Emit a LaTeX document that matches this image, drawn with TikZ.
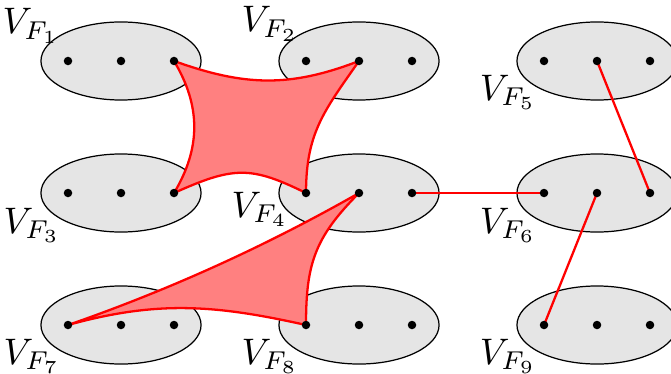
\documentclass[tikz,border=0pt]{standalone}
\usepackage{amsmath}
\usepackage{tikz}
\usetikzlibrary{shapes.geometric, calc}

\begin{document}
\begin{tikzpicture}[
    x=0.01cm, y=-0.01cm,
    part/.style={ellipse, draw=black, line width=0.35pt, fill=black!10, minimum width=1.6cm, minimum height=0.78cm, inner sep=0pt},
    vert/.style={circle, fill=black, inner sep=0pt, minimum size=0.085cm},
    hyper/.style={draw=red, line width=0.65pt, fill=red!50, line join=round},
    link/.style={draw=red, line width=0.65pt},
    lab/.style={inner sep=0pt, scale=1.05}
]
    \useasboundingbox (0,0) rectangle (671,373);

    % Parts of the partition, three vertices each
    \foreach \i/\x/\y in {1/121/61, 2/359/61, 5/597/61, 3/121/193, 4/359/193, 6/597/193, 7/121/325, 8/359/325, 9/597/325} {
        \node[part] (F\i) at (\x,\y) {};
        \foreach \j/\dx in {a/-53, b/0, c/53}
            \coordinate (F\i\j) at (\x+\dx,\y);
    }

    % Labels
    \node[lab] (L1) at (31,26)  {$V_{F_1}$};
    \node[lab] (L2) at (270,24) {$V_{F_2}$};
    \node[lab] (L3) at (32,225) {$V_{F_3}$};
    \node[lab] (L4) at (260,209) {$V_{F_4}$};
    \node[lab] (L5) at (508,92) {$V_{F_5}$};
    \node[lab] (L6) at (508,225) {$V_{F_6}$};
    \node[lab] (L7) at (32,356) {$V_{F_7}$};
    \node[lab] (L8) at (270,356) {$V_{F_8}$};
    \node[lab] (L9) at (508,356) {$V_{F_9}$};

    % Hyperedge on four vertices
    \draw[hyper] (F1c) .. controls +(70,25) and +(-70,27) .. (F2b)
        .. controls +(-35,50) and +(0,-60) .. (F4a)
        .. controls +(-55,-27) and +(60,-27) .. (F3c)
        .. controls +(27,-45) and +(27,45) .. (F1c) -- cycle;

    % Hyperedge on three vertices
    \draw[hyper] (F4b) .. controls +(-93,53) and +(101,-35) .. (F7a)
        .. controls +(90,-25) and +(-90,-20) .. (F8a)
        .. controls +(0,-60) and +(-45,45) .. (F4b) -- cycle;

    % Ordinary edges
    \draw[link] (F4c) -- (F6a);
    \draw[link] (F5b) -- (F6c);
    \draw[link] (F6b) -- (F9a);

    % Vertices
    \foreach \i in {1,...,9}
        \foreach \j in {a,b,c}
            \node[vert] (v\i\j) at (F\i\j) {};
\end{tikzpicture}
\end{document}
